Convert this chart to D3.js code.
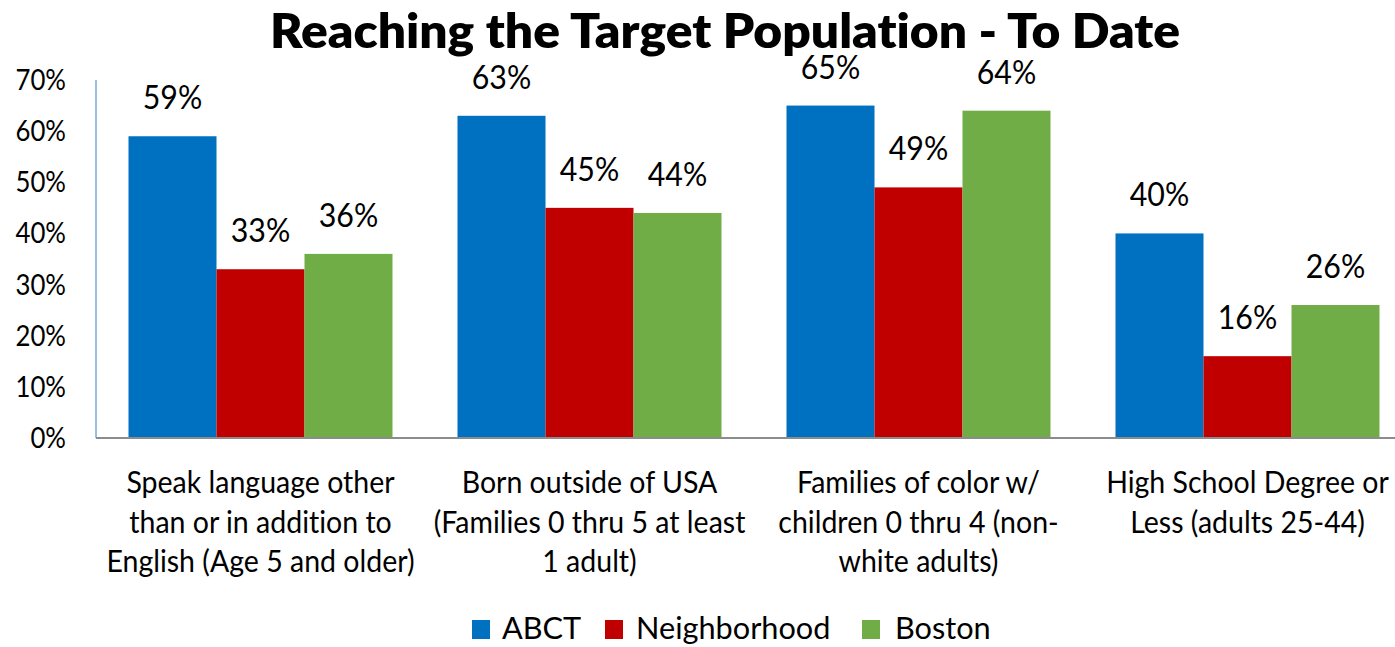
<!DOCTYPE html>
<html>
<head>
<meta charset="utf-8">
<script src="https://cdn.jsdelivr.net/npm/d3@7"></script>
<style>
  html, body { margin: 0; padding: 0; background: #ffffff; }
  svg { display: block; }
  text { font-family: Lato, "Open Sans", sans-serif; fill: #000; font-variant-ligatures: none; }
</style>
</head>
<body>
<svg id="chart" width="1395" height="647"></svg>
<script>
const categories = [
  ["Speak language other", "than or in addition to", "English (Age 5 and older)"],
  ["Born outside of USA", "(Families 0 thru 5 at least", "1 adult)"],
  ["Families of color w/", "children 0 thru 4 (non-", "white adults)"],
  ["High School Degree or", "Less (adults 25-44)"]
];
const seriesNames = ["ABCT", "Neighborhood", "Boston"];
const seriesColors = ["#0070C0", "#C00000", "#70AD47"];
const abct = [0.59, 0.63, 0.65, 0.40];
const neighborhood = [0.33, 0.45, 0.49, 0.16];
const boston = [0.36, 0.44, 0.64, 0.26];
const seriesValues = [abct, neighborhood, boston];
const yTicks = [0, 0.1, 0.2, 0.3, 0.4, 0.5, 0.6, 0.7];
const titleText = "Reaching the Target Population - To Date";

(function () {
const svg = d3.select("#chart");

function addText(g, str, x, y, size, anchor, sx) {
  return g.append("text")
    .attr("transform", `translate(${x},${y}) scale(${sx},1)`)
    .attr("text-anchor", anchor)
    .style("font-size", size + "px")
    .text(str);
}

const mLeft = 96, mBottom = 438, mTop = 80, bandW = 329;
const catIdx = categories.map((c, i) => i);
const x = d3.scaleBand().domain(catIdx).range([mLeft, mLeft + bandW * categories.length]).padding(0);
const xs = d3.scaleBand().domain(seriesNames).range([32.5, bandW - 32.5]).padding(0);
const y = d3.scaleLinear().domain([0, 0.7]).range([mBottom, mTop]);

// Title
svg.append("text")
  .attr("x", 725).attr("y", 48)
  .attr("text-anchor", "middle")
  .attr("textLength", 910)
  .attr("lengthAdjust", "spacingAndGlyphs")
  .style("font-size", "48px")
  .style("font-weight", 800)
  .text(titleText);

// Bars
const groups = svg.append("g").selectAll("g")
  .data(catIdx).join("g")
  .attr("transform", d => `translate(${x(d)},0)`);

groups.selectAll("rect")
  .data(ci => seriesNames.map((s, si) => ({ s, si, v: seriesValues[si][ci] })))
  .join("rect")
  .attr("x", d => xs(d.s))
  .attr("width", xs.bandwidth())
  .attr("y", d => y(d.v))
  .attr("height", d => y(0) - y(d.v))
  .attr("fill", d => seriesColors[d.si]);

// Value labels
const labG = svg.append("g");
catIdx.forEach(ci => {
  seriesNames.forEach((s, si) => {
    const v = seriesValues[si][ci];
    addText(labG, Math.round(v * 100) + "%", x(ci) + xs(s) + xs.bandwidth() / 2, y(v) - 27, 33, "middle", 0.92);
  });
});

// Y axis line
svg.append("line")
  .attr("x1", mLeft).attr("x2", mLeft)
  .attr("y1", y(0.7)).attr("y2", y(0))
  .attr("stroke", "#7BA7DB").attr("stroke-width", 1.5);

// X baseline
svg.append("line")
  .attr("x1", mLeft).attr("x2", 1395)
  .attr("y1", y(0)).attr("y2", y(0))
  .attr("stroke", "#8C8C8C").attr("stroke-width", 2);

// Y tick labels
const tickG = svg.append("g");
const fmt = d3.format(".0%");
yTicks.forEach(t => {
  addText(tickG, fmt(t), 66, y(t) + 10, 28, "end", 0.92);
});

// Category labels
const catG = svg.append("g");
categories.forEach((lines, ci) => {
  lines.forEach((ln, li) => {
    addText(catG, ln, x(ci) + bandW / 2, 493 + li * 39.5, 31, "middle", 0.92);
  });
});

// Legend
const legG = svg.append("g");
const legItems = [
  { sq: 472, tx: 502 },
  { sq: 605, tx: 636 },
  { sq: 862, tx: 895 }
];
seriesNames.forEach((s, si) => {
  legG.append("rect")
    .attr("x", legItems[si].sq).attr("y", 620)
    .attr("width", 18).attr("height", 19)
    .attr("fill", seriesColors[si]);
  addText(legG, s, legItems[si].tx, 639, 31, "start", 0.99);
});
})();
</script>
</body>
</html>
